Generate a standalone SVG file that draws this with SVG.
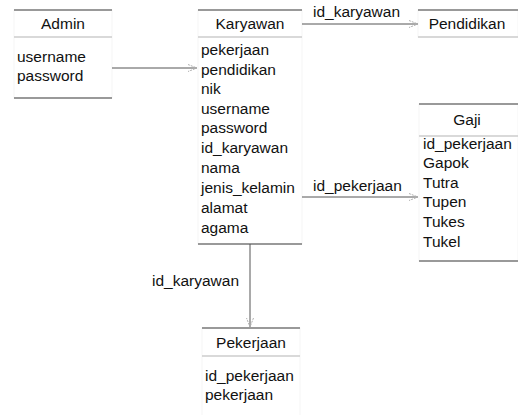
<svg xmlns="http://www.w3.org/2000/svg" width="518" height="415" viewBox="0 0 518 415">
<style>
text{font-family:"Liberation Sans",Arial,sans-serif;font-size:15.5px;fill:#111}
.t{text-anchor:middle}
.side{fill:#fff;stroke:#f5f5f5;stroke-width:1}
.top{stroke:#999;stroke-width:2}
.sep{stroke:#cccccc;stroke-width:1.5}
.bot{stroke:#999;stroke-width:2}
.conn{stroke:#555;stroke-width:1;fill:none}
</style>
<defs>
<marker id="arr" markerWidth="12" markerHeight="10" refX="10" refY="5" orient="auto" markerUnits="userSpaceOnUse">
<path d="M1,1.5 L10,5 L1,8.5" fill="none" stroke="#b0b0b0" stroke-width="1" stroke-dasharray="2,1"/>
</marker>
</defs>
<rect width="518" height="415" fill="#fff"/>
<g id="admin">
<rect class="side" x="14" y="10" width="98" height="88"/>
<line class="top" x1="14" y1="10" x2="112" y2="10"/>
<line class="sep" x1="14" y1="37" x2="112" y2="37"/>
<line class="bot" x1="14" y1="98" x2="112" y2="98"/>
<text class="t" x="63" y="29">Admin</text>
<text x="17" y="62">username</text>
<text x="17" y="81">password</text>
</g>
<g id="karyawan">
<rect class="side" x="198" y="10" width="104" height="234"/>
<line class="top" x1="198" y1="10" x2="302" y2="10"/>
<line class="sep" x1="198" y1="37" x2="302" y2="37"/>
<line class="bot" x1="198" y1="244" x2="302" y2="244"/>
<text class="t" x="250" y="29">Karyawan</text>
<text x="201" y="55">pekerjaan</text>
<text x="201" y="75">pendidikan</text>
<text x="201" y="94">nik</text>
<text x="201" y="114">username</text>
<text x="201" y="133">password</text>
<text x="201" y="153">id_karyawan</text>
<text x="201" y="173">nama</text>
<text x="201" y="193">jenis_kelamin</text>
<text x="201" y="213">alamat</text>
<text x="201" y="233">agama</text>
</g>
<g id="pendidikan">
<rect class="side" x="418" y="10" width="100" height="27"/>
<line class="top" x1="418" y1="10" x2="518" y2="10"/>
<line class="sep" x1="418" y1="37" x2="518" y2="37"/>
<text class="t" x="467" y="29">Pendidikan</text>
</g>
<g id="gaji">
<rect class="side" x="419" y="104" width="99" height="157"/>
<line class="top" x1="419" y1="104" x2="518" y2="104"/>
<line class="sep" x1="419" y1="136" x2="518" y2="136"/>
<line class="bot" x1="419" y1="261" x2="518" y2="261"/>
<text class="t" x="467" y="125">Gaji</text>
<text x="423" y="149">id_pekerjaan</text>
<text x="423" y="168">Gapok</text>
<text x="423" y="188">Tutra</text>
<text x="423" y="207">Tupen</text>
<text x="423" y="227">Tukes</text>
<text x="423" y="247">Tukel</text>
</g>
<g id="pekerjaan">
<rect class="side" x="202" y="328" width="98" height="90"/>
<line class="top" x1="202" y1="328" x2="300" y2="328"/>
<line class="sep" x1="202" y1="356" x2="300" y2="356"/>
<text class="t" x="251" y="348">Pekerjaan</text>
<text x="205" y="381">id_pekerjaan</text>
<text x="205" y="400">pekerjaan</text>
</g>
<g id="connectors">
<line class="conn" x1="112" y1="68" x2="197" y2="68" marker-end="url(#arr)"/>
<line class="conn" x1="302" y1="24" x2="418" y2="24" marker-end="url(#arr)"/>
<text x="313" y="17">id_karyawan</text>
<line class="conn" x1="302" y1="197" x2="418" y2="197" marker-end="url(#arr)"/>
<text x="313" y="191">id_pekerjaan</text>
<line class="conn" x1="250" y1="244" x2="250" y2="327" marker-end="url(#arr)"/>
<text x="152" y="286">id_karyawan</text>
</g>
</svg>
